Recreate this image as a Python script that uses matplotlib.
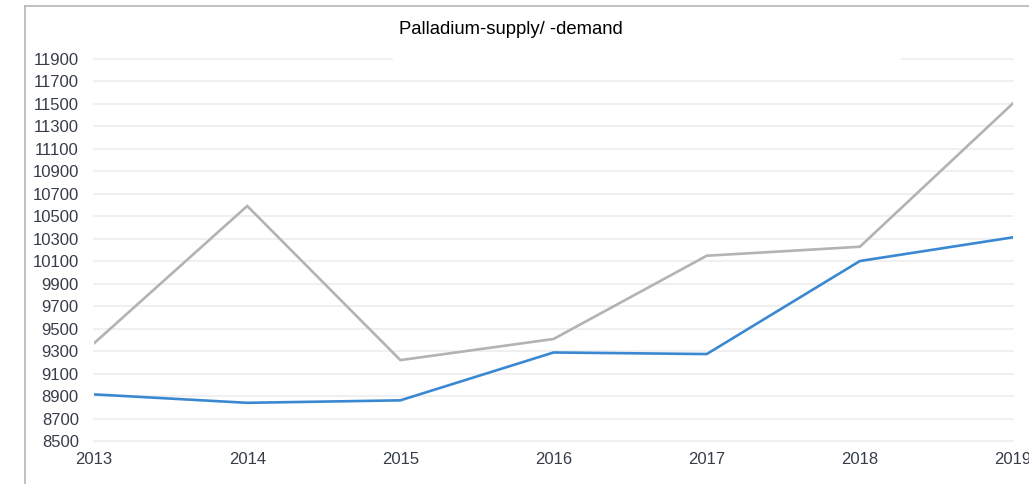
import matplotlib
matplotlib.use("Agg")
import matplotlib.pyplot as plt
from matplotlib.lines import Line2D
from matplotlib.patches import Rectangle


years = [2013, 2014, 2015, 2016, 2017, 2018, 2019]
supply = [8915, 8840, 8862, 9288, 9274, 10102, 10313]
demand = [9370, 10592, 9220, 9408, 10149, 10229, 11506]
yticks = list(range(8500, 12000, 200))

plt.rcParams['font.family'] = ['Liberation Sans', 'DejaVu Sans']

fig = plt.figure(figsize=(10.29, 4.84), dpi=100)
ax = fig.add_axes([0.0914, 0.0888, 0.8931, 0.7893])

ax.plot(years, demand, color="#b3b3b3", lw=1.9, solid_joinstyle="miter", zorder=3)
ax.plot(years, supply, color="#3b88d2", lw=1.9, solid_joinstyle="miter", zorder=3)

ax.set_xlim(2013, 2019)
ax.set_ylim(8500, 11900)
ax.set_xticks(years)
ax.set_yticks(yticks)
ax.tick_params(axis="both", length=0, labelsize=12, labelcolor="#363d48")
ax.tick_params(axis="y", pad=11)
ax.tick_params(axis="x", pad=8)
ax.grid(axis="y", color="#ececec", lw=1.1, clip_on=False)
ax.set_axisbelow(True)
for s in ax.spines.values():
    s.set_visible(False)

# white box that hides the top gridline behind the title
ax.add_patch(Rectangle((0.325, 0.985), 0.553, 0.03, transform=ax.transAxes,
                       facecolor="white", edgecolor="none", clip_on=False, zorder=5))

fig.text(0.4966, 0.94, "Palladium-supply/ -demand", ha="center", va="center",
         fontsize=13.3, color="black")

# screenshot frame
fig.add_artist(Line2D([25 / 1029, 25 / 1029], [0, 1 - 6 / 484], color="#b5b5b5", lw=1.2))
fig.add_artist(Line2D([25 / 1029, 1], [1 - 6 / 484, 1 - 6 / 484], color="#b5b5b5", lw=1.2))

fig.savefig("out.png", dpi=100)
